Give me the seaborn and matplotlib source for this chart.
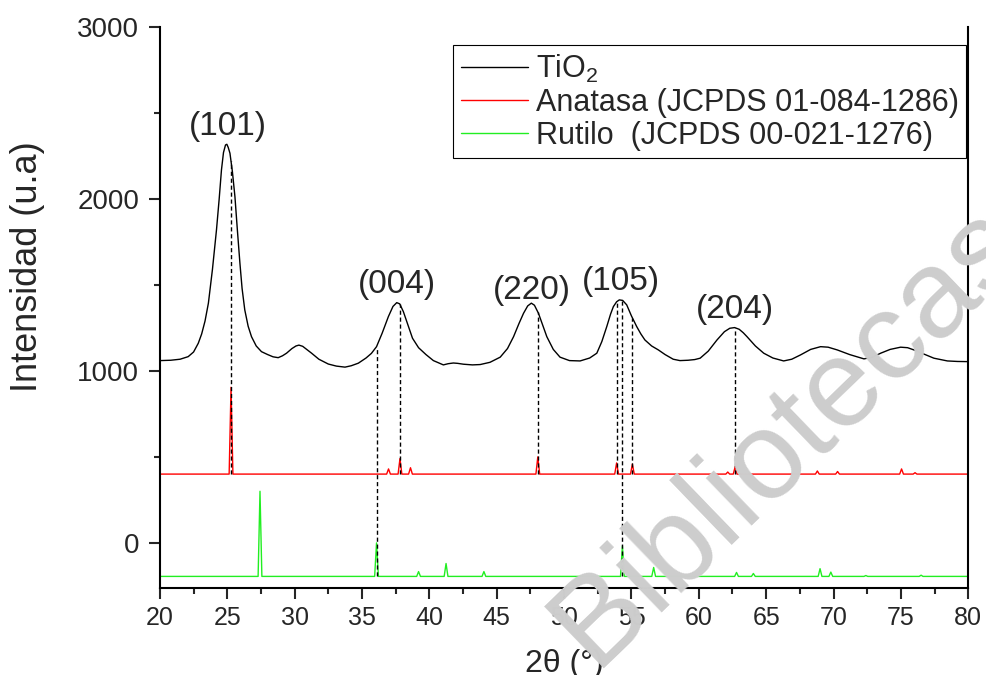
import numpy as np
import pandas as pd
import matplotlib
matplotlib.use("Agg")
import matplotlib.pyplot as plt
import seaborn as sns

tio2_x = [20.0, 20.8, 21.5, 22.1, 22.5, 22.85, 23.1, 23.35, 23.6, 23.9, 24.2, 24.4,
          24.57, 24.72, 24.87, 24.97, 25.07, 25.2, 25.38, 25.57, 25.75, 25.94, 26.1,
          26.3, 26.55, 26.8, 27.15, 27.54, 28.0, 28.4, 28.78, 29.1, 29.4, 29.8,
          30.1, 30.32, 30.6, 30.9, 31.26, 31.8, 32.5, 33.1, 33.74, 34.2, 34.73,
          35.3, 35.7, 36.08, 36.5, 36.96, 37.3, 37.58, 37.8, 38.07, 38.4, 38.75,
          39.2, 39.75, 40.3, 41.04, 41.4, 41.78, 42.1, 42.53, 43.2, 43.77, 44.5,
          45.26, 45.8, 46.25, 46.65, 46.99, 47.3, 47.57, 47.8, 48.1, 48.4, 48.72,
          49.2, 49.7, 50.4, 51.19, 51.9, 52.43, 52.8, 53.17, 53.45, 53.66, 53.9,
          54.1, 54.35, 54.65, 55.0, 55.39, 55.7, 56.0, 56.5, 57.0, 57.5, 58.1,
          58.6, 59.2, 59.7, 60.1, 60.7, 61.35, 61.9, 62.3, 62.66, 63.0, 63.3,
          63.58, 64.2, 64.82, 65.5, 66.3, 66.9, 67.55, 68.3, 69.04, 69.6, 70.28,
          71.2, 72.26, 72.9, 73.5, 74.2, 74.98, 75.5, 75.97, 76.7, 77.45, 78.45,
          79.2, 80.0]
tio2_y = [1060, 1062, 1068, 1083, 1110, 1161, 1215, 1290, 1394, 1590, 1820, 2000,
          2169, 2270, 2314, 2318, 2300, 2266, 2160, 2013, 1820, 1626, 1480,
          1355, 1260, 1199, 1145, 1112, 1095, 1082, 1077, 1088, 1103, 1130,
          1145, 1150, 1143, 1125, 1103, 1068, 1040, 1028, 1022, 1030, 1045,
          1075, 1102, 1141, 1220, 1316, 1375, 1397, 1390, 1345, 1270, 1190,
          1135, 1095, 1060, 1035, 1042, 1046, 1044, 1039, 1035, 1037, 1050,
          1080, 1130, 1199, 1275, 1335, 1378, 1394, 1382, 1335, 1270, 1199,
          1125, 1080, 1060, 1058, 1075, 1103, 1170, 1258, 1330, 1374, 1402,
          1413, 1410, 1384, 1320, 1258, 1215, 1180, 1145, 1122, 1095, 1068,
          1060, 1062, 1066, 1074, 1115, 1180, 1228, 1248, 1252, 1242, 1222,
          1199, 1145, 1103, 1075, 1058, 1068, 1093, 1125, 1141, 1138, 1122,
          1095, 1070, 1080, 1103, 1125, 1138, 1135, 1122, 1098, 1074, 1058,
          1055, 1054]

# Anatasa reference (JCPDS 01-084-1286), offset baseline 400
ana_base = 400
ana_pos = [25.28, 36.97, 37.82, 38.6, 48.05, 53.9, 55.07, 62.15, 62.7, 68.8, 70.3, 75.05, 76.05]
ana_int = [905, 430, 490, 437, 500, 465, 458, 412, 443, 418, 415, 430, 408]

# Rutilo reference (JCPDS 00-021-1276), offset baseline -195
rut_base = -195
rut_pos = [27.43, 36.08, 39.2, 41.24, 44.05, 54.33, 56.65, 62.8, 64.05, 69.0, 69.8, 72.4, 76.5]
rut_int = [300, 0, -167, -120, -167, -17, -143, -172, -178, -150, -170, -190, -188]

# Miller indices labels
hkl_labels = ["(101)", "(004)", "(220)", "(105)", "(204)"]
hkl_x = [25.05, 37.6, 47.6, 54.2, 62.7]
hkl_y = [2420, 1500, 1470, 1520, 1355]

# dashed guide lines: position, which reference baseline they drop to
guide_pos = [25.28, 36.08, 37.82, 48.05, 53.9, 54.33, 55.07, 62.7]
guide_ref = ["a", "r", "a", "a", "a", "r", "a", "a"]


def stick_pattern(pos, inten, base, hw=0.14):
    xs, ys = [20.0], [base]
    for p, h in zip(pos, inten):
        xs += [p - hw, p, p + hw]
        ys += [base, h, base]
    xs.append(80.0)
    ys.append(base)
    return pd.DataFrame({"x": xs, "y": ys})


df_tio2 = pd.DataFrame({"x": tio2_x, "y": tio2_y})
df_ana = stick_pattern(ana_pos, ana_int, ana_base)
df_rut = stick_pattern(rut_pos, rut_int, rut_base)

sns.set_theme(style="ticks")
plt.rcParams["font.family"] = ["Liberation Sans", "DejaVu Sans"]
plt.rcParams["mathtext.default"] = "regular"

fig = plt.figure(figsize=(9.87, 6.75), dpi=100)
ax = fig.add_axes([0.162, 0.129, 0.819, 0.831])

sns.lineplot(data=df_tio2, x="x", y="y", ax=ax, color="black", lw=1.0,
             estimator=None, sort=False, label="TiO$_2$")
sns.lineplot(data=df_ana, x="x", y="y", ax=ax, color="#ff0000", lw=1.0,
             estimator=None, sort=False, label="Anatasa (JCPDS 01-084-1286)")
sns.lineplot(data=df_rut, x="x", y="y", ax=ax, color="#22ee22", lw=1.0,
             estimator=None, sort=False, label="Rutilo  (JCPDS 00-021-1276)")

for p, r in zip(guide_pos, guide_ref):
    top = np.interp(p, tio2_x, tio2_y)
    bottom = ana_base if r == "a" else rut_base
    ax.plot([p, p], [bottom, top], color="black", lw=1.0, ls=(0, (3, 2)))

for t, x, y in zip(hkl_labels, hkl_x, hkl_y):
    ax.text(x, y, t, ha="center", va="center", fontsize=24)

ax.set_xlim(20, 80)
ax.set_ylim(-262, 3000)
ax.set_xticks(np.arange(20, 81, 5))
ax.set_xticks(np.arange(22.5, 80, 5), minor=True)
ax.set_yticks([0, 1000, 2000, 3000])
ax.set_yticks([500, 1500, 2500], minor=True)
ax.tick_params(which="major", length=8, width=1.5, direction="out")
ax.tick_params(which="minor", length=4.5, width=1.5, direction="out")
ax.tick_params(axis="x", labelsize=18, pad=5)
ax.tick_params(axis="y", labelsize=20, pad=7)

for s in ["left", "bottom", "right"]:
    ax.spines[s].set_linewidth(1.5)
    ax.spines[s].set_color("black")
ax.spines["top"].set_visible(False)

ax.set_xlabel("2θ (°)", fontsize=23, labelpad=14)
ax.set_ylabel("Intensidad (u.a)", fontsize=26)
ax.yaxis.set_label_coords(-0.142, 0.572)

leg = ax.legend(loc="upper right", bbox_to_anchor=(0.9975, 0.968), borderaxespad=0,
                fontsize=22, frameon=True, fancybox=False, handlelength=2.2,
                labelspacing=0.1, borderpad=0.25, handletextpad=0.25)
leg.get_frame().set_edgecolor("black")
leg.get_frame().set_linewidth(0.8)
leg.get_frame().set_alpha(1)

# repository watermark
fig.text(0.80, 0.355, "Bibliotecas", fontsize=90, color="#cdcdcd", rotation=44,
         ha="center", va="center", zorder=10)

fig.savefig("out.png", dpi=100)
